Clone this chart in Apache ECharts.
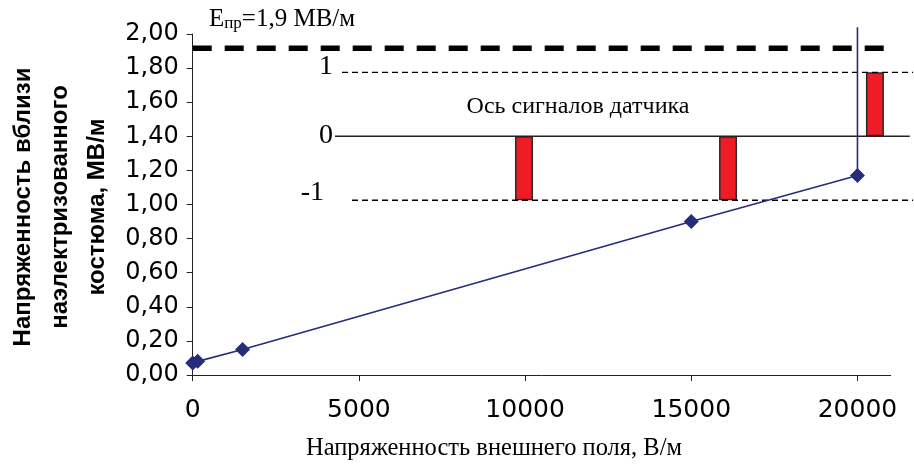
<!DOCTYPE html>
<html><head><meta charset="utf-8">
<script src="https://cdn.jsdelivr.net/npm/echarts@6/dist/echarts.min.js"></script>
<style>html,body{margin:0;padding:0;background:#fff}#c{width:914px;height:465px}</style>
</head><body><div id="c"></div>
<script>
// ---- data ----
const xTicks = [0, 5000, 10000, 15000, 20000];
const yTicks = [0, 0.2, 0.4, 0.6, 0.8, 1.0, 1.2, 1.4, 1.6, 1.8, 2.0];
const fieldX = [0, 150, 1500, 15000, 20000];
const fieldY = [0.07, 0.08, 0.15, 0.90, 1.17];
const spikeX = 20000;
const spikeTop = 2.04;
const breakdownLevel = 1.916;
const breakdownRange = [0, 21130];
const sensorX = [9970, 16110, 20530];
const sensorY = [-1, -1, 1];
const sensorLevels = [1, 0, -1];
const sensorLevelStart = [4493, 4282, 4794];
const sensorLevelEnd = [21676, 21580, 21676];
const sensorLabels = ['1', '0', '-1'];

const navy = '#262b7c';
const chart = echarts.init(document.getElementById('c'), null, {renderer: 'canvas'});

const fieldData = fieldX.map((x, i) => [x, fieldY[i]]);
fieldData.push({value: [spikeX, spikeTop], symbol: 'none'});

const levelSeries = sensorLevels.map((lv, i) => ({
  type: 'line', xAxisIndex: 1, yAxisIndex: 1, silent: true, animation: false,
  symbol: 'none', clip: false,
  lineStyle: lv === 0 ? {color: '#222', width: 1.4, type: 'solid'} : {color: '#000', width: 1.4, type: [6, 4]},
  data: [
    {value: [sensorLevelStart[i], lv], symbol: 'circle', symbolSize: 0.1,
     label: {show: true, position: 'left', formatter: sensorLabels[i],
       distance: lv === 1 ? 9 : (lv === 0 ? 2 : 28),
       offset: [0, lv === 0 ? -1 : (lv === 1 ? -6 : -8)],
       fontFamily: 'Liberation Serif', fontSize: 28, color: '#000'}},
    [sensorLevelEnd[i], lv]
  ]
}));

chart.setOption({
  animation: false,
  backgroundColor: '#fff',
  grid: [
    {left: 192.7, top: 34, right: 23.3, bottom: 90},
    {left: 192.7, top: 34, right: 1, bottom: 90}
  ],
  xAxis: [
    {type: 'value', gridIndex: 0, min: 0, max: 21000, interval: 5000,
     splitLine: {show: false},
     axisLine: {show: true, onZero: false, lineStyle: {color: '#222', width: 1}},
     axisTick: {show: true, inside: false, length: 6, lineStyle: {color: '#222'}},
     axisLabel: {margin: 23, fontFamily: 'DejaVu Sans', fontSize: 25, color: '#000', showMaxLabel: false,
       formatter: v => xTicks.includes(v) ? String(v) : ''}},
    {type: 'value', gridIndex: 1, min: 0, max: 21676, show: false}
  ],
  yAxis: [
    {type: 'value', gridIndex: 0, min: 0, max: 2, interval: 0.2,
     splitLine: {show: false},
     axisLine: {show: true, onZero: false, lineStyle: {color: '#222', width: 1}},
     axisTick: {show: true, inside: false, length: 6, lineStyle: {color: '#222'}},
     axisLabel: {margin: 14, fontFamily: 'DejaVu Sans', fontSize: 24, color: '#000',
       formatter: v => v.toFixed(2).replace('.', ',')}},
    {type: 'value', gridIndex: 1, min: -3.733, max: 1.6, show: false}
  ],
  graphic: [
    {type: 'text', left: 209, top: 7, z: 10,
     style: {text: '{a|E}{b|пр}{a|=1,9 МВ/м}', fill: '#000',
       rich: {a: {fontFamily: 'Liberation Serif', fontSize: 25, lineHeight: 28, verticalAlign: 'bottom'},
              b: {fontFamily: 'Liberation Serif', fontSize: 17, lineHeight: 22, verticalAlign: 'bottom'}}}},
    {type: 'text', x: 578, y: 107, z: 10,
     style: {text: 'Ось сигналов датчика', fill: '#000', font: '24px "Liberation Serif"', textAlign: 'center', textVerticalAlign: 'middle'}},
    {type: 'text', x: 494, y: 449, z: 10,
     style: {text: 'Напряженность внешнего поля, В/м', fill: '#000', font: '24.5px "Liberation Serif"', textAlign: 'center', textVerticalAlign: 'middle'}},
    {type: 'text', x: 60, y: 207, rotation: Math.PI / 2, z: 10,
     style: {text: 'Напряженность вблизи\nнаэлектризованного\nкостюма, МВ/м', fill: '#000',
       font: 'bold 24px "Liberation Sans"', lineHeight: 37, textAlign: 'center', textVerticalAlign: 'middle'}}
  ],
  series: [
    {type: 'line', name: 'breakdown', xAxisIndex: 0, yAxisIndex: 0, symbol: 'none', clip: false, silent: true,
     lineStyle: {color: '#000', width: 5.5, type: [19, 13]},
     data: [[breakdownRange[0], breakdownLevel], [breakdownRange[1], breakdownLevel]]},
    ...levelSeries,
    {type: 'bar', xAxisIndex: 1, yAxisIndex: 1, barWidth: 18, silent: true,
     itemStyle: {color: '#ee1d25', borderColor: '#2a2a2a', borderWidth: 1.5},
     data: sensorX.map((x, i) => [x, sensorY[i]])},
    {type: 'line', name: 'field', xAxisIndex: 0, yAxisIndex: 0, clip: false, z: 5,
     symbol: 'diamond', symbolSize: [15, 15], showAllSymbol: true,
     itemStyle: {color: navy}, lineStyle: {color: navy, width: 1.6},
     data: fieldData}
  ]
});
</script></body></html>
